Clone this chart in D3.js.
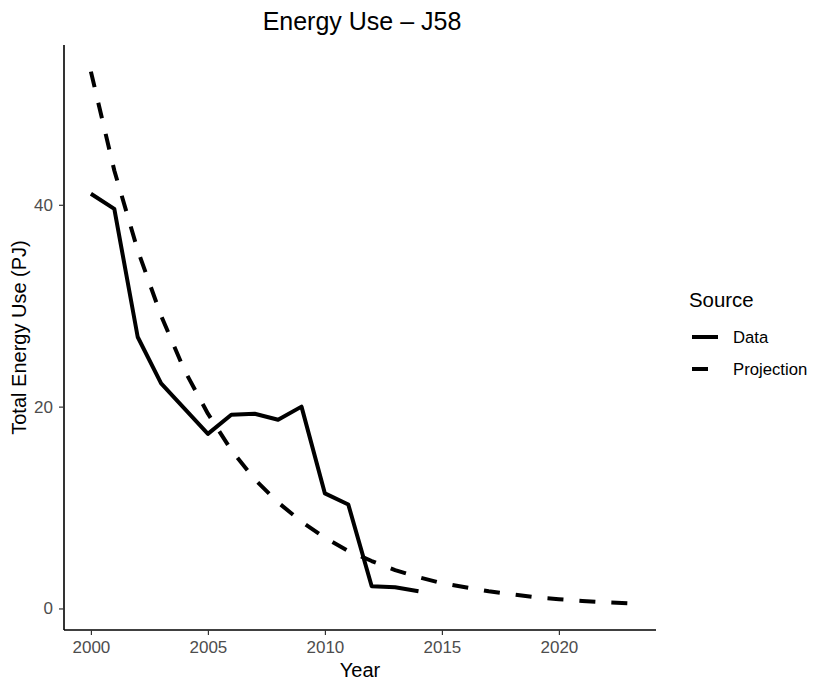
<!DOCTYPE html>
<html>
<head>
<meta charset="utf-8">
<script src="https://cdn.jsdelivr.net/npm/d3@7"></script>
<style>
  html, body { margin: 0; padding: 0; background: #fff; }
  text { font-family: "Liberation Sans", Arial, Helvetica, sans-serif; }
</style>
</head>
<body>
<svg id="chart" width="830" height="692"></svg>
<script>
// ---- data ----
const dataYears = [2000, 2001, 2002, 2003, 2004, 2005, 2006, 2007, 2008, 2009, 2010, 2011, 2012, 2013, 2014];
const dataValues = [41.1, 39.6, 26.9, 22.3, 19.8, 17.3, 19.2, 19.3, 18.7, 20.0, 11.4, 10.3, 2.2, 2.1, 1.7];

const projYears = [2000, 2001, 2002, 2003, 2004, 2005, 2006, 2007, 2008, 2009, 2010, 2011,
                   2012, 2013, 2014, 2015, 2016, 2017, 2018, 2019, 2020, 2021, 2022, 2023];
const projValues = [53.2, 43.4, 35.5, 29.0, 23.6, 19.3, 15.7, 12.8, 10.5, 8.6, 7.0, 5.7,
                    4.7, 3.8, 3.1, 2.5, 2.1, 1.7, 1.4, 1.1, 0.92, 0.75, 0.61, 0.50];

const xTicks = [2000, 2005, 2010, 2015, 2020];
const yTicks = [0, 20, 40];
const seriesNames = ["Data", "Projection"];

// ---- layout ----
const svg = d3.select("#chart");
const panel = { left: 64, right: 656, top: 45, bottom: 630 };

const allX = dataYears.concat(projYears);
const allY = dataValues.concat(projValues);
const xMin = d3.min(allX), xMax = d3.max(allX);
const yMin = d3.min(allY), yMax = d3.max(allY);
const xPad = (xMax - xMin) * 0.05, yPad = (yMax - yMin) * 0.05;

const x = d3.scaleLinear().domain([xMin - xPad, xMax + xPad]).range([panel.left, panel.right]);
const y = d3.scaleLinear().domain([yMin - yPad, yMax + yPad]).range([panel.bottom, panel.top]);

// axes
const xAxis = d3.axisBottom(x).tickValues(xTicks).tickFormat(d3.format("d")).tickSize(5).tickPadding(6);
const yAxis = d3.axisLeft(y).tickValues(yTicks).tickSize(5).tickPadding(6);

const gx = svg.append("g").attr("transform", `translate(0,${panel.bottom})`).call(xAxis);
const gy = svg.append("g").attr("transform", `translate(${panel.left},0)`).call(yAxis);

[gx, gy].forEach(g => {
  g.select(".domain").attr("stroke", "#000").attr("stroke-width", 1.6);
  g.selectAll(".tick line").attr("stroke", "#333").attr("stroke-width", 1.2);
  g.selectAll(".tick text").attr("fill", "#4d4d4d").style("font-size", "17px")
    .style("font-family", '"Liberation Sans", Arial, sans-serif');
});
// domain paths extend fully across panel (no outer ticks)
gx.select(".domain").attr("d", `M${panel.left},0H${panel.right}`);
gy.select(".domain").attr("d", `M0,${panel.top}V${panel.bottom}`);

// lines
const line = d3.line().x(d => x(d[0])).y(d => y(d[1]));
const dataPts = dataYears.map((yr, i) => [yr, dataValues[i]]);
const projPts = projYears.map((yr, i) => [yr, projValues[i]]);

const lines = svg.append("g");
lines.append("path").datum(projPts).attr("d", line)
  .attr("fill", "none").attr("stroke", "#000").attr("stroke-width", 4)
  .attr("stroke-dasharray", "16,16").attr("stroke-linejoin", "round").attr("stroke-linecap", "butt");
lines.append("path").datum(dataPts).attr("d", line)
  .attr("fill", "none").attr("stroke", "#000").attr("stroke-width", 4)
  .attr("stroke-linejoin", "round").attr("stroke-linecap", "butt");

// title
svg.append("text").attr("x", 362).attr("y", 30)
  .attr("text-anchor", "middle").style("font-size", "25px").attr("fill", "#000")
  .text("Energy Use – J58");

// axis titles
svg.append("text").attr("x", 360).attr("y", 677)
  .attr("text-anchor", "middle").style("font-size", "20px").attr("fill", "#000")
  .text("Year");
svg.append("text")
  .attr("transform", `translate(26,${(panel.top + panel.bottom) / 2}) rotate(-90)`)
  .attr("text-anchor", "middle").style("font-size", "20px").attr("fill", "#000")
  .text("Total Energy Use (PJ)");

// legend
const lg = svg.append("g");
lg.append("text").attr("x", 689).attr("y", 307).style("font-size", "20.4px").attr("fill", "#000").text("Source");
const keyY = [337, 369];
seriesNames.forEach((name, i) => {
  lg.append("line").attr("x1", 692).attr("x2", 718).attr("y1", keyY[i]).attr("y2", keyY[i])
    .attr("stroke", "#000").attr("stroke-width", 4)
    .attr("stroke-dasharray", i === 1 ? "16,16" : null);
  lg.append("text").attr("x", 733).attr("y", keyY[i] + 6).style("font-size", "16.7px")
    .attr("fill", "#000").text(name);
});
</script>
</body>
</html>
